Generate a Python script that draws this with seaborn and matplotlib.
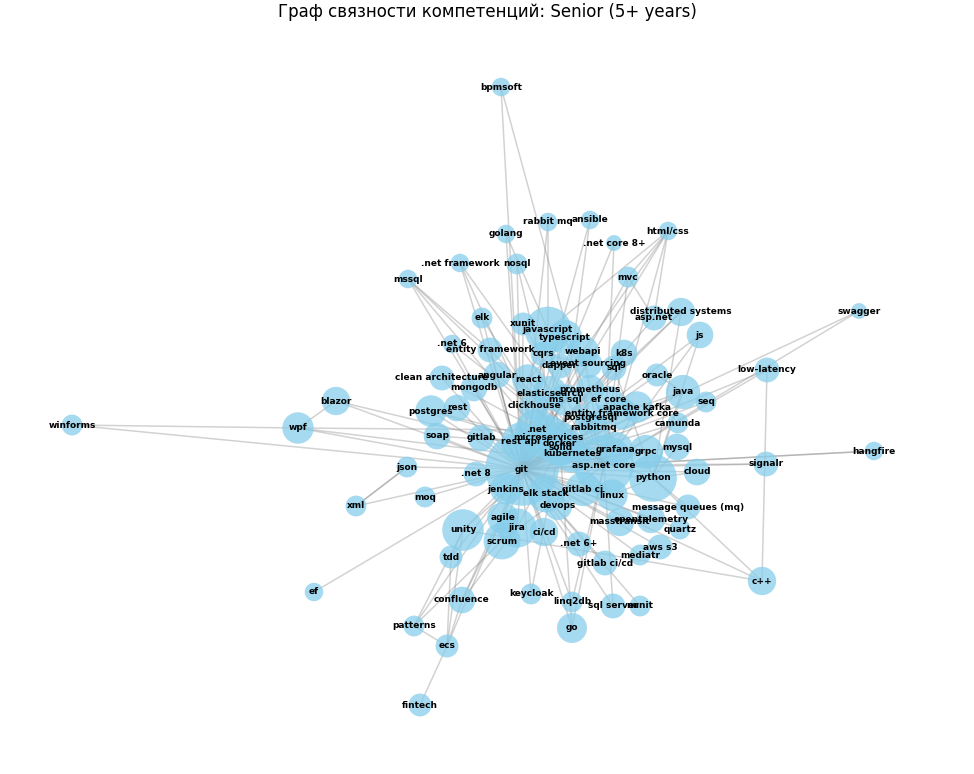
import matplotlib
matplotlib.use("Agg")
import matplotlib.pyplot as plt
import seaborn as sns
import pandas as pd

nodes = ["bpmsoft","rabbit mq","ansible","golang",".net core 8+","html/css",".net framework","nosql","mssql","mvc",
"elk","xunit","javascript","typescript","distributed systems","asp.net","swagger","js",".net 6","entity framework",
"cqrs","webapi","k8s","event sourcing","dapper","sql","clean architecture","angular","react","oracle",
"low-latency","mongodb","prometheus","elasticsearch","java","blazor","ms sql","ef core","seq","clickhouse",
"apache kafka","postgres","rest","entity framework core","postgresql","rabbitmq","winforms","wpf","camunda","soap",
"gitlab",".net","microservices","docker","rest api","solid","kubernetes","grafana","grpc","mysql",
"hangfire","json",".net 8","git","asp.net core","python","cloud","signalr","jenkins","elk stack",
"gitlab ci","linux","moq","xml","message queues (mq)","devops","agile","masstransit","opentelemetry","unity",
"jira","quartz","ci/cd","scrum","tdd",".net 6+","mediatr","aws s3","gitlab ci/cd","c++",
"ef","keycloak","confluence","linq2db","sql server","nunit","go","patterns","ecs","fintech"]
pos_x = [501,548,590,506,614,668,460,517,408,628,482,523,548,565,681,654,859,700,452,490,
543,583,624,588,560,614,442,497,528,657,767,474,590,550,683,336,565,609,706,534,
637,431,457,622,590,594,72,298,678,437,481,536,548,560,521,561,572,616,646,677,
874,407,476,522,604,653,697,766,506,546,583,612,425,356,688,558,503,620,651,463,
517,680,544,502,451,579,640,660,605,762,314,531,462,572,613,640,572,414,447,420]
pos_y = [87,222,220,234,243,231,263,264,279,277,318,324,330,337,312,318,311,335,344,350,
354,351,353,364,366,368,378,375,380,375,370,388,389,393,392,401,400,400,402,406,
407,411,408,414,418,428,425,428,423,436,438,430,437,444,442,447,453,449,452,447,
451,467,474,469,465,478,472,464,489,494,489,495,497,506,507,506,518,522,519,530,
528,529,532,541,557,544,555,547,563,581,592,594,600,602,606,606,628,626,646,705]
node_size = [5,5,5,5,4,5,5,6,5,6,6,7,25,14,10,8,4,9,5,8,
8,12,9,10,8,8,8,9,12,7,8,9,10,14,14,10,12,10,6,10,
12,12,9,12,12,12,6,12,6,9,9,20,22,22,18,16,18,14,14,9,
5,6,8,60,40,26,9,8,12,16,14,12,6,6,8,10,12,10,10,20,
18,6,10,16,7,8,6,8,8,10,5,6,9,6,8,6,11,6,7,7]
edges = [("bpmsoft","git"),("bpmsoft","asp.net core"),("rabbit mq","git"),("rabbit mq","javascript"),("ansible","git"),("ansible","docker"),
("golang","git"),("golang","javascript"),(".net core 8+","asp.net core"),(".net core 8+","git"),("html/css","asp.net core"),("html/css","javascript"),
("html/css","mvc"),("html/css","git"),("html/css","webapi"),("html/css","asp.net"),(".net framework","git"),(".net framework",".net"),(".net framework","asp.net core"),
("nosql","git"),("nosql","docker"),("mssql","git"),("mssql",".net"),("mssql","asp.net core"),("mssql","entity framework"),("mvc","git"),("mvc","asp.net core"),
("elk","git"),("elk","docker"),("xunit","git"),("xunit","asp.net core"),("javascript","git"),("javascript","asp.net core"),("javascript","react"),
("typescript","git"),("typescript","react"),("distributed systems","git"),("distributed systems","microservices"),("distributed systems","python"),
("asp.net","git"),("asp.net","mvc"),("swagger","asp.net core"),("swagger","git"),("js","git"),("js","python"),("js","asp.net core"),
(".net 6","git"),(".net 6","asp.net core"),("entity framework","git"),("entity framework","asp.net core"),("cqrs","git"),("cqrs","microservices"),
("webapi","git"),("webapi","asp.net core"),("k8s","git"),("k8s","docker"),("event sourcing","cqrs"),("event sourcing","git"),("dapper","git"),
("sql","git"),("sql","python"),("clean architecture","git"),("clean architecture","asp.net core"),("angular","git"),("angular","asp.net core"),
("react","git"),("oracle","git"),("oracle","java"),("low-latency","git"),("low-latency","asp.net core"),("low-latency","c++"),("mongodb","git"),
("prometheus","grafana"),("prometheus","git"),("elasticsearch","git"),("java","python"),("java","git"),("blazor","git"),("blazor","asp.net core"),
("blazor","wpf"),("ms sql","git"),("ef core","git"),("seq","git"),("clickhouse","git"),("apache kafka","git"),("apache kafka","microservices"),
("postgres","git"),("postgres","asp.net core"),("rest","git"),("entity framework core","git"),("postgresql","git"),("rabbitmq","git"),
("winforms","wpf"),("winforms","git"),("wpf","git"),("wpf",".net"),("wpf","asp.net core"),("camunda","git"),("soap","git"),("soap","rest api"),
("gitlab","git"),(".net","git"),("microservices","git"),("docker","git"),("docker","asp.net core"),("rest api","git"),("solid","git"),
("kubernetes","docker"),("kubernetes","git"),("grafana","git"),("grpc","git"),("grpc","asp.net core"),("mysql","git"),("mysql","python"),
("hangfire","asp.net core"),("hangfire","git"),("json","git"),("json","xml"),(".net 8","git"),("git","asp.net core"),("python","git"),
("cloud","git"),("cloud","python"),("signalr","asp.net core"),("signalr","git"),("jenkins","git"),("elk stack","git"),("gitlab ci","git"),
("linux","git"),("linux","python"),("moq","git"),("xml","git"),("xml","json"),("message queues (mq)","git"),("message queues (mq)","python"),
("devops","git"),("agile","git"),("agile","scrum"),("masstransit","git"),("opentelemetry","git"),("unity","git"),("unity","c++"),("jira","git"),
("jira","confluence"),("quartz","git"),("ci/cd","git"),("scrum","git"),("scrum","jira"),("tdd","git"),("tdd","unity"),(".net 6+","git"),
("mediatr","git"),("aws s3","git"),("gitlab ci/cd","git"),("c++","git"),("c++","python"),("ef","git"),("keycloak","git"),("confluence","git"),
("confluence","agile"),("linq2db","git"),("sql server","git"),("nunit","git"),("go","git"),("go","docker"),("patterns","git"),("patterns","ecs"),
("patterns","scrum"),("ecs","git"),("ecs","unity"),("ecs","tdd"),("fintech","ecs"),("ecs","confluence"),("patterns","unity"),
("go","asp.net core"),("linq2db","asp.net core"),("sql server","asp.net core"),("keycloak","docker"),("postgres","docker"),("java","microservices"),
("python","docker"),("unity","docker"),("scrum","asp.net core"),("jira","docker"),("apache kafka","asp.net core"),("javascript","docker"),
("react","asp.net core"),("typescript","asp.net core"),("k8s","asp.net core"),("gitlab","docker"),("grpc","microservices"),("linux","docker")]

df = pd.DataFrame({"node": nodes, "x": pos_x, "y": pos_y, "w": node_size})
idx = {n: i for i, n in enumerate(nodes)}

fig, ax = plt.subplots(figsize=(9.74, 7.74), dpi=100)
fig.subplots_adjust(left=0, right=1, top=1, bottom=0)
for a, b in edges:
    ax.plot([pos_x[idx[a]], pos_x[idx[b]]], [pos_y[idx[a]], pos_y[idx[b]]],
            color="gray", alpha=0.35, lw=1.1, zorder=1)
sns.scatterplot(data=df, x="x", y="y", size="w", sizes=(130, 2800), color="skyblue",
                alpha=0.75, edgecolor="none", legend=False, ax=ax, zorder=2)
for n, x, y in zip(nodes, pos_x, pos_y):
    ax.text(x, y, n, fontsize=6.5, fontweight="bold", ha="center", va="center", zorder=3)
ax.set_xlim(0, 974)
ax.set_ylim(774, 0)
ax.axis("off")
ax.text(487, 12, "Граф связности компетенций: Senior (5+ years)", fontsize=12, ha="center", va="center")
fig.savefig("out.png", dpi=100)
